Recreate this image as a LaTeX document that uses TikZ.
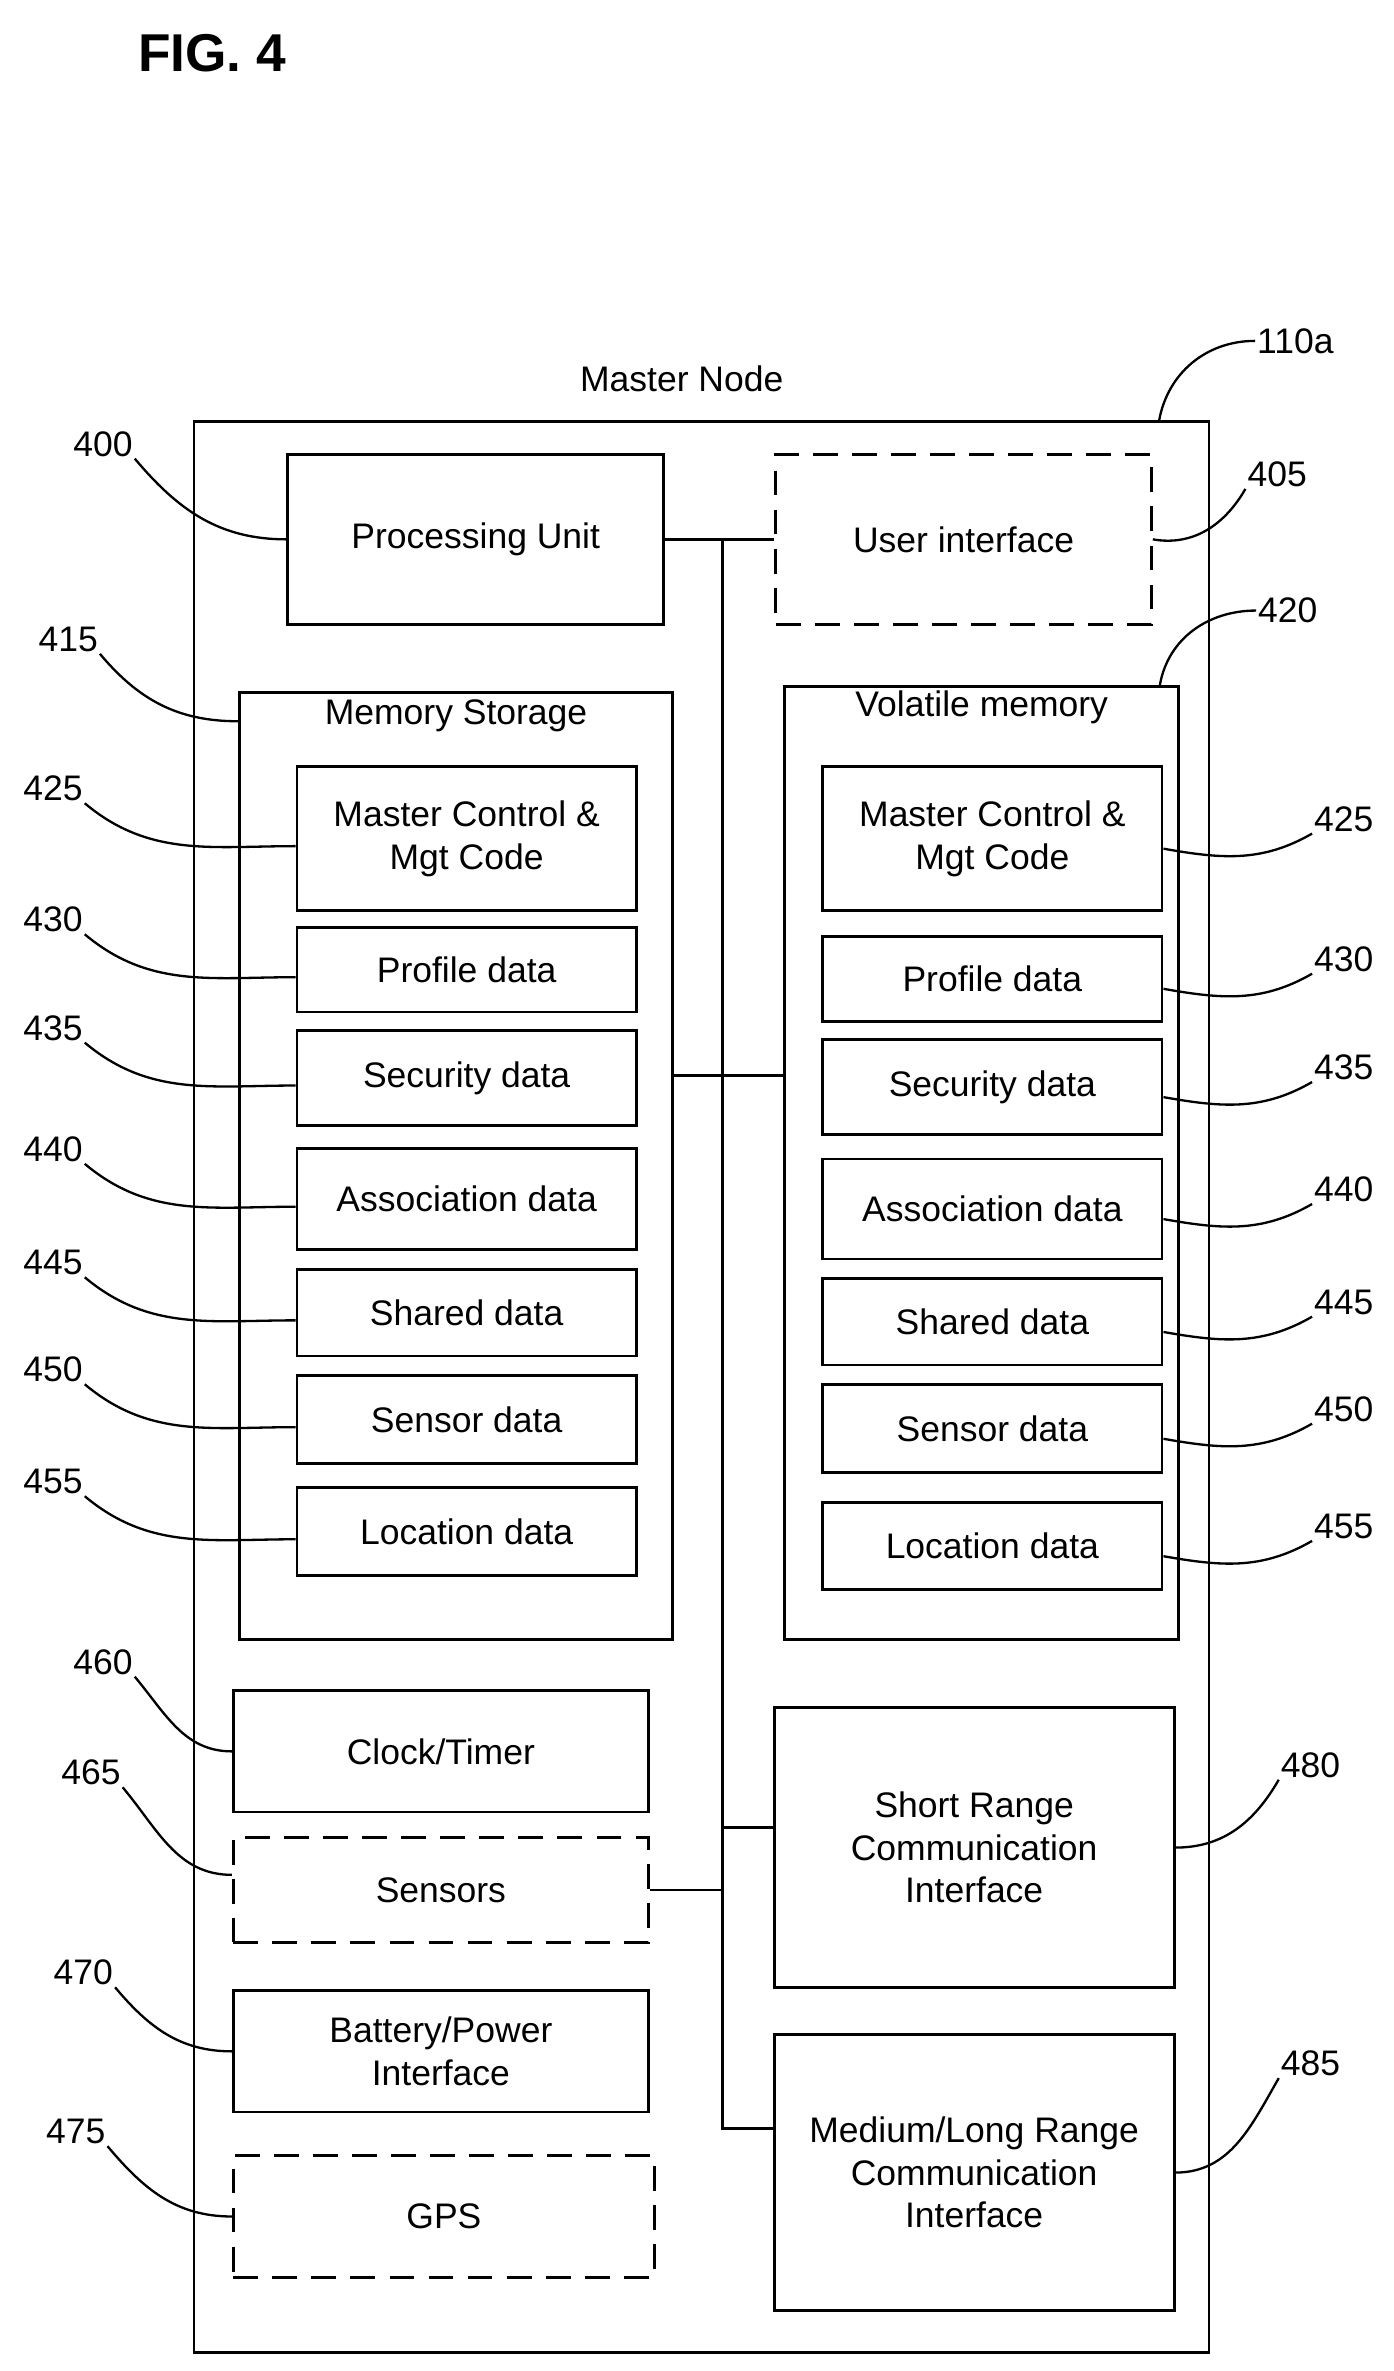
\documentclass[tikz,border=0pt]{standalone}
\usepackage{fontspec}
\setmainfont{Liberation Sans}
\usetikzlibrary{positioning}
\tikzset{
  box/.style 2 args={draw, line width=1.6pt, align=center, inner sep=2pt,
    minimum width=#1*0.03cm, minimum height=#2*0.03cm,
    font=\fontsize{20}{24}\selectfont},
  dbox/.style 2 args={box={#1}{#2}, dashed, dash pattern=on 14pt off 8pt},
  num/.style={font=\fontsize{20}{24}\selectfont, inner sep=1pt},
  lead/.style={line width=1.3pt},
  bus/.style={line width=1.6pt}
}
\begin{document}
\begin{tikzpicture}[x=0.03cm,y=-0.03cm]
\useasboundingbox (0,0) rectangle (920,1565);
\node[font=\bfseries\fontsize{30}{34}\selectfont] (fig) at (140,35) {FIG. 4};
\node[num] (title) at (450,250) {Master Node};
\draw[line width=1.6pt] (128,278) rectangle (798,1553);
\node[num] (l110) at (855,225) {110a};
\draw[lead] (765,278) to[out=80,in=180] (l110.west);
% top row
\node[box={248}{112}] (pu) at (314,356) {Processing Unit};
\node[dbox={248}{112}] (ui) at (636,356) {User interface};
\node[num] (l400) at (68,293) {400};
\node[num] (l405) at (843,313) {405};
\draw[lead] (l400.south east) to[out=-50,in=180] (pu.west);
\draw[lead] (ui.east) to[out=-10,in=-120] (l405.south west);
% memories
\node[box={286}{625}] (ms) at (301,769.5) {};
\node[num, below=4pt of ms.north] (mst) {Memory Storage};
\node[box={260}{629}] (vm) at (648,767.5) {};
\node[num, below=2pt of vm.north] (vmt) {Volatile memory};
\node[num] (l415) at (45,422) {415};
\node[num] (l420) at (850,403) {420};
\draw[lead] (l415.south east) to[out=-50,in=180] ([yshift=-0.6cm]ms.north west);
\draw[lead] ([xshift=-0.4cm]vm.north east) to[out=80,in=180] (l420.west);
\foreach \i/\t/\yl/\hl/\yr/\hr/\n in {
  1/{Master Control \&\\Mgt Code}/553.5/95/553.5/95/425,
  2/Profile data/640/56/646/56/430,
  3/Security data/711.5/63/717.5/63/435,
  4/Association data/791.5/67/798/66/440,
  5/Shared data/866.5/57/872.5/57/445,
  6/Sensor data/937/58/943/58/450,
  7/Location data/1011/58/1020.5/57/455} {
  \node[box={224}{\hl}] (ms\i) at (308,\yl) {\t};
  \node[box={224}{\hr}] (vm\i) at (655,\yr) {\t};
  \node[num] (ll\i) at (35,\yl-33) {\n};
  \node[num] (lr\i) at (887,\yr-13) {\n};
  \draw[lead] (ll\i.south east) to[out=-40,in=180] ([yshift=-0.15cm]ms\i.west);
  \draw[lead] ([yshift=-0.2cm]vm\i.east) to[out=-10,in=-150] (lr\i.south west);
}
% lower left
\node[box={274}{80}] (clk) at (291,1156) {Clock/Timer};
\node[dbox={274}{69}] (sen) at (291,1247.5) {Sensors};
\node[box={274}{80}] (bat) at (291,1354) {Battery/Power\\Interface};
\node[dbox={278}{80}] (gps) at (293,1463) {GPS};
\node[num] (l460) at (68,1097) {460};
\node[num] (l465) at (60,1170) {465};
\node[num] (l470) at (55,1302) {470};
\node[num] (l475) at (50,1407) {475};
\draw[lead] (l460.south east) to[out=-50,in=180] (clk.west);
\draw[lead] (l465.south east) to[out=-50,in=180] ([yshift=0.3cm]sen.west);
\draw[lead] (l470.south east) to[out=-50,in=180] (bat.west);
\draw[lead] (l475.south east) to[out=-50,in=180] (gps.west);
% lower right
\node[box={264}{185}] (src) at (643,1219.5) {Short Range\\Communication\\Interface};
\node[box={264}{182}] (lrc) at (643,1434) {Medium/Long Range\\Communication\\Interface};
\node[num] (l480) at (865,1165) {480};
\node[num] (l485) at (865,1362) {485};
\draw[lead] (src.east) to[out=0,in=-120] (l480.south west);
\draw[lead] (lrc.east) to[out=0,in=-120] (l485.south west);
% bus
\coordinate (btop) at (477,356);
\coordinate (bbot) at (477,1405);
\draw[bus] (btop) -- (bbot) -- (bbot -| lrc.west);
\draw[bus] (pu.east) -- (ui.west);
\draw[bus] (ms.east |- 0,710) -- (vm.west |- 0,710);
\draw[bus] (sen.east) -- (sen.east -| btop);
\draw[bus] (477,1206) -- (src.west |- 0,1206);
\end{tikzpicture}
\end{document}
